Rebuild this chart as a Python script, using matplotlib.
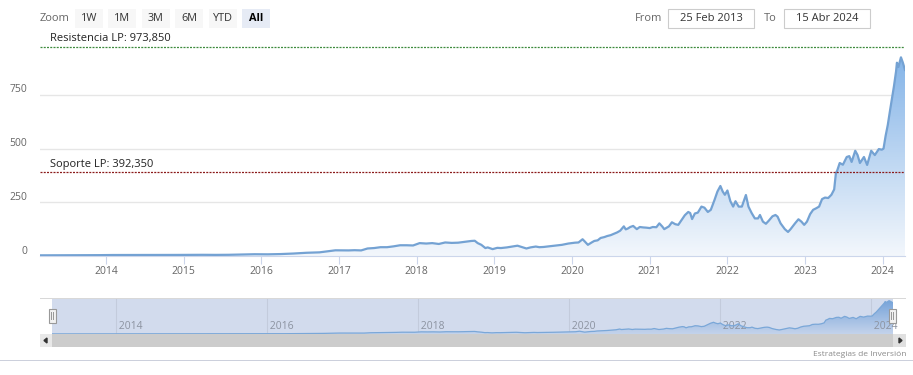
import numpy as np
import pandas as pd
import matplotlib
matplotlib.use('Agg')
import matplotlib.pyplot as plt
import matplotlib.dates as mdates
from matplotlib.patches import Rectangle, Polygon
from matplotlib.colors import LinearSegmentedColormap

plt.rcParams['font.family'] = ['Open Sans', 'DejaVu Sans']

# datos (precio ajustado)
fechas = [
    '2013-02-25', '2013-04-01', '2013-06-01', '2013-08-01', '2013-10-01', '2013-12-01',
    '2014-02-01', '2014-04-01', '2014-06-01', '2014-08-01', '2014-10-01', '2014-12-01',
    '2015-02-01', '2015-04-01', '2015-06-01', '2015-08-01', '2015-10-01', '2015-12-01',
    '2016-02-01', '2016-04-01', '2016-06-01', '2016-08-01', '2016-10-01', '2016-11-15', '2016-12-15',
    '2017-01-15', '2017-02-15', '2017-03-15', '2017-04-15', '2017-05-15', '2017-06-15',
    '2017-07-15', '2017-08-15', '2017-09-15', '2017-10-15', '2017-11-15', '2017-12-15',
    '2018-01-15', '2018-02-15', '2018-03-15', '2018-04-15', '2018-05-15', '2018-06-15',
    '2018-07-15', '2018-08-15', '2018-09-15', '2018-10-01', '2018-10-15', '2018-11-01',
    '2018-11-20', '2018-12-01', '2018-12-24',
    '2019-01-15', '2019-02-01', '2019-03-01', '2019-04-01', '2019-04-20', '2019-05-15',
    '2019-06-01', '2019-06-20', '2019-07-15', '2019-08-01', '2019-08-20', '2019-09-15',
    '2019-10-15', '2019-11-15', '2019-12-15',
    '2020-01-01', '2020-01-15', '2020-02-01', '2020-02-20', '2020-03-01', '2020-03-16',
    '2020-04-01', '2020-04-15', '2020-05-01', '2020-05-15', '2020-06-01', '2020-06-15',
    '2020-07-01', '2020-07-15', '2020-08-01', '2020-08-15', '2020-09-01', '2020-09-10',
    '2020-09-20', '2020-10-01', '2020-10-15', '2020-11-01', '2020-11-15', '2020-12-01', '2020-12-15',
    '2021-01-01', '2021-01-15', '2021-02-01', '2021-02-15', '2021-03-01', '2021-03-10',
    '2021-04-01', '2021-04-15', '2021-05-01', '2021-05-15', '2021-06-01', '2021-06-15',
    '2021-07-01', '2021-07-10', '2021-07-19', '2021-08-01', '2021-08-15', '2021-09-01',
    '2021-09-15', '2021-10-01', '2021-10-15', '2021-11-01', '2021-11-15', '2021-11-29',
    '2021-12-10', '2021-12-20',
    '2022-01-01', '2022-01-15', '2022-01-28', '2022-02-08', '2022-02-23', '2022-03-10',
    '2022-03-29', '2022-04-10', '2022-04-25', '2022-05-10', '2022-05-25', '2022-06-03',
    '2022-06-17', '2022-07-01', '2022-07-15', '2022-08-01', '2022-08-15', '2022-08-25',
    '2022-09-08', '2022-09-28', '2022-10-13', '2022-10-25', '2022-11-15', '2022-12-01',
    '2022-12-15', '2022-12-28',
    '2023-01-10', '2023-01-25', '2023-02-08', '2023-02-22', '2023-03-08', '2023-03-22',
    '2023-04-05', '2023-04-20', '2023-05-05', '2023-05-18', '2023-05-26', '2023-06-02',
    '2023-06-13', '2023-06-28', '2023-07-16', '2023-07-28', '2023-08-08', '2023-08-25',
    '2023-09-05', '2023-09-16', '2023-10-05', '2023-10-20', '2023-11-08', '2023-11-25',
    '2023-12-14', '2023-12-28',
    '2024-01-05', '2024-01-15', '2024-01-25', '2024-02-05', '2024-02-15', '2024-02-23',
    '2024-03-04', '2024-03-08', '2024-03-15', '2024-03-27', '2024-04-05', '2024-04-15',
]
precios = [
    3.1, 3.2, 3.5, 3.8, 3.8, 4.0,
    4.6, 4.6, 4.7, 4.6, 4.6, 5.0,
    5.4, 5.5, 5.2, 5.6, 6.8, 8.2,
    7.8, 9.0, 11.5, 15.0, 17.0, 23.0, 26.5,
    26, 26, 27, 26, 35, 37,
    41, 41, 45, 50, 50, 49,
    60, 58, 60, 56, 63, 61,
    62, 66, 70, 71, 60, 52,
    37, 40, 32,
    38, 37, 40, 45, 48, 40,
    35, 40, 44, 41, 42, 45,
    48, 52, 58,
    60, 62, 63, 78, 68, 52,
    62, 70, 73, 84, 88, 93,
    97, 103, 110, 118, 138, 124,
    128, 135, 140, 125, 135, 133, 132,
    130, 135, 134, 152, 137, 125,
    138, 157, 148, 145, 170, 190,
    205, 200, 172, 198, 202, 230,
    225, 205, 215, 260, 300, 326,
    300, 285,
    305, 255, 230, 255, 230, 230,
    284, 230, 200, 175, 175, 191,
    160, 150, 165, 185, 191, 183,
    152, 125, 112, 125, 152, 171,
    160, 145,
    160, 195, 215, 222, 230, 265,
    272, 270, 285, 310, 385, 400,
    433, 425, 461, 465, 438, 490,
    470, 433, 461, 424, 490, 470,
    498, 495,
    500, 560, 610, 680, 740, 790,
    860, 900, 880, 925, 900, 866,
]
resistencia = 973.85
soporte = 392.35
ticks_y = [0, 250, 500, 750]
anios = list(range(2014, 2025))
anios_nav = [2014, 2016, 2018, 2020, 2022, 2024]
botones = ['1W', '1M', '3M', '6M', 'YTD', 'All']
desde = '25 Feb 2013'
hasta = '15 Abr 2024'

W, H = 913, 375
fig = plt.figure(figsize=(W / 100, H / 100), dpi=100)


def px(x0, y0, x1, y1):
    return [x0 / W, 1 - y1 / H, (x1 - x0) / W, (y1 - y0) / H]


def caja(x0, y0, x1, y1, **kw):
    fig.add_artist(Rectangle((x0 / W, 1 - y1 / H), (x1 - x0) / W, (y1 - y0) / H,
                             transform=fig.transFigure, **kw))


def texto(x, y, s, **kw):
    fig.text(x / W, 1 - y / H, s, **kw)


def relleno(ax, x, y, c_arriba, c_abajo, ymax, z=1):
    poly = ax.fill_between(x, 0, y, color='none', lw=0)
    grad = np.linspace(1, 0, 256).reshape(-1, 1)
    cmap = LinearSegmentedColormap.from_list('g', [c_abajo, c_arriba])
    im = ax.imshow(grad, aspect='auto', cmap=cmap, origin='upper',
                   extent=[x[0], x[-1], 0, ymax], zorder=z, interpolation='bilinear')
    im.set_clip_path(poly.get_paths()[0], transform=ax.transData)


x = mdates.date2num(pd.to_datetime(fechas))
y = np.array(precios, dtype=float)
inicio = mdates.date2num(pd.Timestamp('2013-02-25'))
fin = mdates.date2num(pd.Timestamp('2024-04-15'))
ticks_x = mdates.date2num(pd.to_datetime([f'{a}-01-01' for a in anios]))

# grafico principal
ax = fig.add_axes(px(40, 38, 905, 256))
ymax = 1015
relleno(ax, x, y, '#7aaee6', '#f3f7fc', ymax)
ax.plot(x, y, color='#74a2d3', lw=1.6, zorder=3)
ax.set_xlim(inicio, fin)
ax.set_ylim(0, ymax)
ax.set_yticks(ticks_y)
ax.set_yticklabels([])
ax.tick_params(axis='y', length=0)
ax.yaxis.grid(True, color='#e6e6e6', lw=1)
ax.set_axisbelow(True)
for s in ['top', 'right', 'left']:
    ax.spines[s].set_visible(False)
ax.spines['bottom'].set_color('#ccd6eb')
ax.set_xticks(ticks_x)
ax.set_xticklabels([str(a) for a in anios], color='#666666', fontsize=7.5)
ax.tick_params(axis='x', length=5.5, color='#ccd6eb', pad=1.5)
for v in ticks_y:
    ax.annotate(str(v), xy=(0, v), xycoords=('axes fraction', 'data'),
                xytext=(-9.4, 3.6), textcoords='offset points',
                ha='right', va='center', color='#666666', fontsize=7.5)

ax.axhline(resistencia, color='#3d8b3d', ls=(0, (1.6, 1.0)), lw=0.9, zorder=4)
ax.axhline(soporte, color='#8b1a1a', ls=(0, (1.6, 1.0)), lw=0.9, zorder=4)
ax.annotate('Resistencia LP: 973,850', xy=(0, resistencia), xycoords=('axes fraction', 'data'),
            xytext=(7.2, 5.8), textcoords='offset points', va='center', fontsize=8, color='#222222')
ax.annotate('Soporte LP: 392,350', xy=(0, soporte), xycoords=('axes fraction', 'data'),
            xytext=(7.2, 5.0), textcoords='offset points', va='center', fontsize=8, color='#222222')

# navegador
caja(40, 298, 906, 298.8, color='#d8d8d8', lw=0)
nav = fig.add_axes(px(52, 298, 893, 334))
nav.set_facecolor('#d2dbed')
ticks_nav = mdates.date2num(pd.to_datetime([f'{a}-01-01' for a in anios_nav]))
for t, a in zip(ticks_nav, anios_nav):
    nav.axvline(t, color='#c3cbdc', lw=0.8, zorder=0)
    nav.text(t, 0.2, ' ' + str(a), transform=nav.get_xaxis_transform(),
             color='#8c93a0', fontsize=7.5, va='center', ha='left', zorder=2)
relleno(nav, x, y, '#6f9fd8', '#c4d3eb', 1000, z=1)
nav.plot(x, y, color='#7aa7d8', lw=0.9, zorder=3)
nav.set_xlim(inicio, fin)
nav.set_ylim(0, 1000)
nav.set_xticks([])
nav.set_yticks([])
for s in nav.spines.values():
    s.set_visible(False)

# manijas
for hx in [52.5, 892.5]:
    caja(hx - 3.5, 309, hx + 3.5, 323, facecolor='#f2f2f2', edgecolor='#999999', lw=0.8, zorder=5)
    for dx in [-1, 1]:
        caja(hx + dx - 0.3, 312, hx + dx + 0.3, 320, color='#999999', lw=0, zorder=6)

# barra de desplazamiento
caja(40, 334, 906, 347, color='#cccccc', lw=0)
caja(40, 334, 52, 347, color='#e8e8e8', lw=0)
caja(893, 334, 906, 347, color='#e0e0e0', lw=0)
fig.add_artist(Polygon([[44 / W, 1 - 340.5 / H], [47 / W, 1 - 338 / H], [47 / W, 1 - 343 / H]],
                       closed=True, color='#333333', transform=fig.transFigure))
fig.add_artist(Polygon([[902 / W, 1 - 340.5 / H], [899 / W, 1 - 338 / H], [899 / W, 1 - 343 / H]],
                       closed=True, color='#333333', transform=fig.transFigure))
for gx in [471, 473, 475]:
    caja(gx - 0.4, 337, gx + 0.4, 344, color='#333333', lw=0)
caja(0, 359.5, W, 360.5, color='#ccd0dc', lw=0)
texto(906, 354, 'Estrategias de Inversión', ha='right', va='center', fontsize=6, color='#8a8a8a')

# selector de rango
texto(40, 18.5, 'Zoom', ha='left', va='center', fontsize=8, color='#666666')
for i, b in enumerate(botones):
    bx = 75 + i * 33.4
    sel = b == 'All'
    caja(bx, 9, bx + 28, 28, color='#e6ebf5' if sel else '#f7f7f7', lw=0)
    texto(bx + 14, 18.5, b, ha='center', va='center', fontsize=7.8,
          color='#000000' if sel else '#333333', fontweight='bold' if sel else 'normal')

texto(635, 18.5, 'From', ha='left', va='center', fontsize=8, color='#666666')
caja(668, 9, 754, 28, facecolor='white', edgecolor='#cccccc', lw=0.8)
texto(711, 18.5, desde, ha='center', va='center', fontsize=8, color='#333333')
texto(764, 18.5, 'To', ha='left', va='center', fontsize=8, color='#666666')
caja(784, 9, 870, 28, facecolor='white', edgecolor='#cccccc', lw=0.8)
texto(827, 18.5, hasta, ha='center', va='center', fontsize=8, color='#333333')

fig.savefig('out.png', dpi=100)
